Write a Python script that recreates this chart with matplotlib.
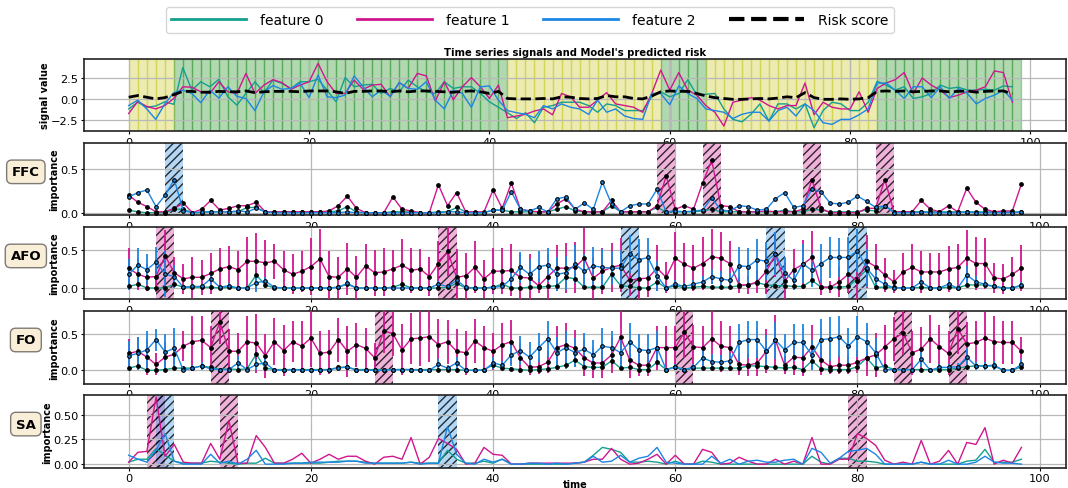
import matplotlib
matplotlib.use("Agg")
import matplotlib.pyplot as plt
from matplotlib.lines import Line2D
import numpy as np

# ---------------- data ----------------
t = np.arange(99)

sig_f0 = [-1.15, -0.35, -0.95, -0.8, -0.3, -0.6, 3.8, 1.1, 2.1, 1.5,
          2.4, 0.3, -0.7, 0.7, 2.1, 0.8, 2.3, 1.9, 1.3, 2.1,
          2.1, 2.4, 1.1, -0.3, 2.6, 1.5, 1.7, 1.8, 0.7, 1.3,
          0.9, 2.3, 1.5, 0.9, 0.7, 2.1, 1.3, 1.5, 1.5, 0.7,
          -0.3, -0.95, -1.6, -2.3, -1.6, -2.8, -0.95, -0.75, -0.35, -0.35,
          -0.35, -0.75, -1.55, -0.55, -0.75, -1.35, -1.35, -1.35, 0.3, 0.9,
          0.3, 0.7, 2.35, 0.5, 0.6, 0.7, -1.15, -2.4, -2.7, -1.8,
          -0.55, -2.6, -0.55, -0.55, -1.15, -0.55, -3.4, -1.35, -0.35, -0.55,
          -1.35, -1.35, -0.35, 2.15, 1.7, 1.1, 1.5, 0.1, 0.3, 0.7,
          1.7, 1.3, 1.45, 1.1, 1.1, 1.2, 1.1, 1.6, 1.5]
sig_f1 = [-1.7, -0.25, -0.85, -1.15, -0.75, 0.1, 1.5, 1.45, 0.9, 0.7,
          2.1, 0.9, 0.7, 3.1, 0.7, 1.7, 2.35, 2.0, 1.2, 1.7,
          2.1, 4.3, 2.1, 0.7, 0.7, 2.3, 1.2, 1.7, 1.8, 0.3,
          2.0, 1.3, 3.1, 2.8, -0.2, 2.1, -0.05, 1.5, 2.6, 1.5,
          0.1, 1.7, -2.2, -2.0, -1.8, -1.4, -1.15, -1.85, 0.7, 0.3,
          -0.95, -0.95, -0.1, 0.8, -0.55, -0.75, -0.95, -1.55, 0.7, 3.5,
          1.1, 3.2, 1.1, 0.5, -0.75, -1.55, -3.2, -0.35, -0.1, 0.2,
          -0.1, -0.75, -1.15, -0.75, -0.75, 1.95, -1.85, -0.35, -0.95, -1.15,
          -1.15, 0.9, -1.55, 1.3, 1.95, 2.35, 3.2, 0.7, 2.55, 1.7,
          1.1, 0.2, 0.5, 0.9, 1.1, 1.5, 3.4, 3.2, -0.35]
sig_f2 = [-0.75, -0.1, -1.15, -2.4, -0.55, 0.8, 1.1, 0.7, -0.4, 1.1,
          0.15, 1.5, 0.35, 0.1, -1.35, 0.9, 1.65, 1.2, 1.3, 1.95,
          0.2, 2.9, 0.3, 0.2, 0.5, 2.8, 1.5, 0.3, 1.1, 0.35,
          2.0, 1.3, 1.2, 2.1, -0.1, -1.15, 1.1, 0.7, -0.95, 1.5,
          1.6, -0.1, -1.35, -1.6, -1.8, -2.2, -0.75, -1.15, -0.55, -0.95,
          -1.15, -1.8, -0.1, -1.55, -1.15, -2.0, -2.3, -2.4, 0.7, 0.7,
          -0.65, 1.6, 0.7, 0.1, -1.15, -1.35, -1.55, -2.3, -1.8, -1.55,
          -1.55, -2.6, -1.35, -0.95, -2.0, -0.55, -1.35, -2.8, -3.0, -2.4,
          -2.4, -1.85, -1.15, 1.95, 1.95, 1.1, 0.1, 1.5, 1.5, 0.2,
          1.5, 0.1, 1.3, 0.7, -0.55, 0.1, 0.5, 1.1, -0.1]
risk = [0.25, 0.45, 0.25, 0.05, 0.2, 0.55, 0.95, 0.95, 0.85, 0.85,
        0.95, 0.9, 0.9, 1.0, 0.8, 0.9, 0.95, 0.95, 0.95, 0.9,
        1.0, 1.0, 1.0, 0.9, 0.7, 0.95, 0.95, 1.0, 1.0, 0.9,
        1.0, 0.9, 1.0, 1.0, 0.95, 0.9, 0.85, 0.95, 1.0, 0.9,
        0.7, 0.95, 0.1, 0.05, 0.05, 0.05, 0.1, 0.05, 0.3, 0.25,
        0.1, 0.05, 0.1, 0.45, 0.3, 0.3, 0.1, 0.05, 0.4, 0.9,
        1.0, 0.95, 0.95, 0.7, 0.4, 0.2, 0.1, 0.0, 0.0, 0.05,
        0.1, 0.05, 0.15, 0.3, 0.2, 0.8, 0.2, 0.0, 0.0, 0.05,
        0.0, 0.05, 0.2, 0.95, 1.0, 0.95, 1.0, 0.9, 0.95, 1.0,
        1.0, 0.9, 0.95, 1.0, 0.85, 0.95, 1.0, 1.0, 0.65]
# state label of each time step (1 = event, 0 = normal)
label = [0] * 5 + [1] * 37 + [0] * 17 + [1] * 5 + [0] * 19 + [1] * 16

# ---- FFC importance ----
ffc_f0 = [0.03, 0.01, 0.0, 0.0, 0.0, 0.04, 0.04, 0.0, 0.0, 0.01,
          0.01, 0.01, 0.01, 0.06, 0.06, 0.01, 0.01, 0.01, 0.01, 0.01,
          0.01, 0.01, 0.01, 0.02, 0.07, 0.01, 0.0, 0.0, 0.0, 0.01,
          0.01, 0.01, 0.0, 0.0, 0.01, 0.01, 0.06, 0.01, 0.0, 0.0,
          0.03, 0.03, 0.01, 0.01, 0.01, 0.01, 0.01, 0.04, 0.07, 0.02,
          0.01, 0.01, 0.01, 0.08, 0.01, 0.01, 0.01, 0.01, 0.06, 0.01,
          0.01, 0.01, 0.01, 0.02, 0.04, 0.01, 0.01, 0.01, 0.01, 0.01,
          0.01, 0.01, 0.03, 0.01, 0.01, 0.04, 0.03, 0.01, 0.01, 0.01,
          0.01, 0.03, 0.02, 0.08, 0.01, 0.01, 0.01, 0.01, 0.01, 0.01,
          0.01, 0.01, 0.01, 0.01, 0.01, 0.01, 0.01, 0.01, 0.01]
ffc_f1 = [0.2, 0.12, 0.07, 0.01, 0.01, 0.05, 0.11, 0.0, 0.04, 0.14,
          0.03, 0.05, 0.08, 0.08, 0.12, 0.01, 0.01, 0.01, 0.01, 0.01,
          0.01, 0.01, 0.02, 0.08, 0.19, 0.05, 0.0, 0.0, 0.0, 0.18,
          0.04, 0.02, 0.0, 0.0, 0.32, 0.08, 0.23, 0.01, 0.01, 0.01,
          0.26, 0.05, 0.34, 0.04, 0.02, 0.01, 0.01, 0.1, 0.16, 0.04,
          0.01, 0.01, 0.01, 0.14, 0.01, 0.01, 0.01, 0.01, 0.08, 0.42,
          0.04, 0.08, 0.04, 0.34, 0.6, 0.08, 0.07, 0.01, 0.01, 0.01,
          0.02, 0.01, 0.01, 0.01, 0.04, 0.38, 0.05, 0.0, 0.0, 0.0,
          0.0, 0.05, 0.05, 0.38, 0.01, 0.01, 0.01, 0.14, 0.04, 0.01,
          0.08, 0.01, 0.28, 0.12, 0.04, 0.01, 0.02, 0.02, 0.33]
ffc_f2 = [0.18, 0.23, 0.26, 0.07, 0.2, 0.38, 0.02, 0.0, 0.01, 0.01,
          0.01, 0.01, 0.02, 0.01, 0.05, 0.01, 0.0, 0.0, 0.0, 0.0,
          0.0, 0.0, 0.0, 0.0, 0.01, 0.0, 0.0, 0.0, 0.0, 0.0,
          0.0, 0.0, 0.0, 0.0, 0.0, 0.01, 0.01, 0.0, 0.0, 0.0,
          0.03, 0.03, 0.24, 0.04, 0.02, 0.06, 0.01, 0.16, 0.18, 0.04,
          0.11, 0.04, 0.35, 0.1, 0.01, 0.08, 0.1, 0.1, 0.27, 0.01,
          0.02, 0.01, 0.02, 0.03, 0.17, 0.03, 0.02, 0.08, 0.07, 0.03,
          0.04, 0.16, 0.23, 0.06, 0.08, 0.27, 0.24, 0.11, 0.1, 0.12,
          0.19, 0.13, 0.06, 0.08, 0.0, 0.0, 0.0, 0.01, 0.0, 0.0,
          0.0, 0.0, 0.01, 0.0, 0.0, 0.0, 0.0, 0.0, 0.01]

# ---- AFO importance (mean and std) ----
afo_f0 = [0.02, 0.05, 0.0, 0.0, 0.0, 0.05, 0.01, 0.01, 0.01, 0.01,
          0.0, 0.01, 0.0, 0.0, 0.17, 0.04, 0.0, 0.0, 0.0, 0.0,
          0.0, 0.0, 0.0, 0.01, 0.05, 0.0, 0.0, 0.0, 0.0, 0.01,
          0.05, 0.0, 0.0, 0.0, 0.0, 0.01, 0.06, 0.0, 0.0, 0.0,
          0.01, 0.05, 0.0, 0.0, 0.01, 0.01, 0.02, 0.03, 0.14, 0.12,
          0.01, 0.01, 0.01, 0.18, 0.03, 0.02, 0.0, 0.0, 0.08, 0.0,
          0.03, 0.0, 0.01, 0.02, 0.01, 0.01, 0.01, 0.03, 0.04, 0.07,
          0.04, 0.03, 0.03, 0.02, 0.02, 0.1, 0.01, 0.01, 0.01, 0.02,
          0.12, 0.24, 0.01, 0.01, 0.01, 0.0, 0.0, 0.01, 0.0, 0.0,
          0.01, 0.0, 0.04, 0.04, 0.04, 0.02, 0.0, 0.0, 0.03]
afo_f1 = [0.26, 0.18, 0.14, 0.15, 0.42, 0.2, 0.12, 0.14, 0.14, 0.19,
          0.25, 0.28, 0.24, 0.35, 0.35, 0.33, 0.35, 0.24, 0.18, 0.22,
          0.28, 0.38, 0.15, 0.14, 0.25, 0.14, 0.29, 0.2, 0.21, 0.25,
          0.3, 0.23, 0.25, 0.15, 0.32, 0.48, 0.14, 0.16, 0.27, 0.12,
          0.22, 0.22, 0.23, 0.14, 0.13, 0.03, 0.15, 0.26, 0.26, 0.27,
          0.39, 0.13, 0.22, 0.27, 0.3, 0.1, 0.12, 0.13, 0.26, 0.14,
          0.39, 0.31, 0.26, 0.32, 0.41, 0.39, 0.32, 0.04, 0.04, 0.08,
          0.22, 0.44, 0.09, 0.24, 0.31, 0.4, 0.01, 0.01, 0.08, 0.18,
          0.09, 0.35, 0.28, 0.17, 0.08, 0.21, 0.27, 0.21, 0.21, 0.21,
          0.25, 0.27, 0.39, 0.32, 0.32, 0.13, 0.12, 0.18, 0.26]
afo_f2 = [0.18, 0.3, 0.24, 0.34, 0.18, 0.15, 0.01, 0.02, 0.02, 0.12,
          0.01, 0.03, 0.0, 0.0, 0.07, 0.09, 0.01, 0.0, 0.0, 0.0,
          0.0, 0.0, 0.0, 0.01, 0.06, 0.0, 0.0, 0.0, 0.0, 0.0,
          0.0, 0.0, 0.0, 0.0, 0.05, 0.02, 0.1, 0.01, 0.0, 0.0,
          0.01, 0.02, 0.12, 0.27, 0.18, 0.28, 0.3, 0.18, 0.2, 0.31,
          0.22, 0.29, 0.27, 0.26, 0.26, 0.45, 0.37, 0.4, 0.16, 0.0,
          0.05, 0.02, 0.05, 0.08, 0.15, 0.12, 0.1, 0.29, 0.28, 0.37,
          0.35, 0.45, 0.2, 0.1, 0.32, 0.23, 0.32, 0.4, 0.4, 0.4,
          0.49, 0.26, 0.12, 0.05, 0.0, 0.0, 0.0, 0.08, 0.0, 0.0,
          0.05, 0.0, 0.17, 0.08, 0.05, 0.02, 0.0, 0.0, 0.04]
afo_s0 = [0.02, 0.04, 0.01, 0.01, 0.01, 0.04, 0.01, 0.01, 0.01, 0.01,
          0.01, 0.01, 0.01, 0.01, 0.1, 0.04, 0.01, 0.01, 0.01, 0.01,
          0.01, 0.01, 0.01, 0.01, 0.04, 0.01, 0.01, 0.01, 0.01, 0.01,
          0.04, 0.01, 0.01, 0.01, 0.01, 0.01, 0.05, 0.01, 0.01, 0.01,
          0.01, 0.04, 0.01, 0.01, 0.01, 0.01, 0.02, 0.03, 0.08, 0.08,
          0.01, 0.01, 0.01, 0.1, 0.03, 0.02, 0.01, 0.01, 0.06, 0.01,
          0.03, 0.01, 0.01, 0.02, 0.01, 0.01, 0.01, 0.03, 0.04, 0.05,
          0.03, 0.03, 0.03, 0.02, 0.02, 0.07, 0.01, 0.01, 0.01, 0.02,
          0.08, 0.12, 0.01, 0.01, 0.01, 0.01, 0.01, 0.01, 0.01, 0.01,
          0.01, 0.01, 0.03, 0.03, 0.03, 0.02, 0.01, 0.01, 0.02]
afo_s1 = [0.26, 0.2, 0.18, 0.2, 0.34, 0.2, 0.2, 0.27, 0.23, 0.27,
          0.28, 0.27, 0.25, 0.32, 0.37, 0.3, 0.23, 0.25, 0.26, 0.27,
          0.37, 0.39, 0.33, 0.27, 0.34, 0.28, 0.28, 0.3, 0.31, 0.25,
          0.34, 0.3, 0.26, 0.26, 0.3, 0.32, 0.37, 0.3, 0.34, 0.25,
          0.3, 0.3, 0.34, 0.3, 0.32, 0.1, 0.3, 0.3, 0.33, 0.33,
          0.4, 0.28, 0.3, 0.32, 0.35, 0.2, 0.35, 0.25, 0.3, 0.2,
          0.35, 0.28, 0.3, 0.35, 0.36, 0.35, 0.3, 0.1, 0.12, 0.15,
          0.3, 0.3, 0.25, 0.27, 0.32, 0.35, 0.1, 0.08, 0.2, 0.25,
          0.25, 0.35, 0.3, 0.22, 0.15, 0.25, 0.3, 0.28, 0.25, 0.25,
          0.3, 0.3, 0.37, 0.35, 0.33, 0.2, 0.2, 0.22, 0.3]
afo_s2 = [0.2, 0.22, 0.2, 0.2, 0.3, 0.15, 0.03, 0.03, 0.03, 0.1,
          0.02, 0.04, 0.01, 0.01, 0.12, 0.06, 0.02, 0.01, 0.01, 0.01,
          0.01, 0.01, 0.01, 0.02, 0.04, 0.01, 0.01, 0.01, 0.01, 0.01,
          0.01, 0.01, 0.01, 0.01, 0.04, 0.03, 0.08, 0.02, 0.01, 0.01,
          0.02, 0.03, 0.1, 0.2, 0.2, 0.2, 0.22, 0.22, 0.22, 0.25,
          0.22, 0.25, 0.24, 0.22, 0.24, 0.25, 0.27, 0.25, 0.2, 0.02,
          0.06, 0.04, 0.06, 0.08, 0.1, 0.1, 0.1, 0.25, 0.25, 0.27,
          0.25, 0.28, 0.2, 0.12, 0.25, 0.22, 0.25, 0.27, 0.25, 0.27,
          0.28, 0.25, 0.12, 0.05, 0.02, 0.02, 0.02, 0.08, 0.02, 0.02,
          0.05, 0.02, 0.12, 0.08, 0.05, 0.03, 0.02, 0.02, 0.04]

# ---- FO importance (mean and std) ----
fo_f0 = [0.03, 0.06, 0.0, 0.0, 0.01, 0.03, 0.03, 0.03, 0.06, 0.04,
         0.01, 0.02, 0.01, 0.02, 0.22, 0.03, 0.01, 0.01, 0.01, 0.01,
         0.01, 0.01, 0.01, 0.04, 0.04, 0.01, 0.01, 0.01, 0.01, 0.01,
         0.01, 0.01, 0.01, 0.01, 0.01, 0.01, 0.01, 0.0, 0.0, 0.01,
         0.07, 0.03, 0.02, 0.01, 0.0, 0.01, 0.02, 0.04, 0.07, 0.14,
         0.05, 0.04, 0.04, 0.13, 0.03, 0.04, 0.01, 0.01, 0.11, 0.01,
         0.05, 0.01, 0.03, 0.03, 0.03, 0.03, 0.03, 0.03, 0.06, 0.06,
         0.05, 0.04, 0.03, 0.04, 0.01, 0.13, 0.02, 0.01, 0.01, 0.01,
         0.05, 0.17, 0.03, 0.06, 0.01, 0.01, 0.01, 0.01, 0.01, 0.01,
         0.01, 0.03, 0.05, 0.06, 0.06, 0.06, 0.0, 0.0, 0.05]
fo_f1 = [0.23, 0.26, 0.18, 0.08, 0.18, 0.22, 0.33, 0.39, 0.41, 0.31,
         0.66, 0.26, 0.26, 0.39, 0.37, 0.2, 0.39, 0.27, 0.39, 0.33,
         0.44, 0.23, 0.25, 0.42, 0.26, 0.35, 0.3, 0.17, 0.54, 0.5,
         0.28, 0.43, 0.44, 0.46, 0.35, 0.39, 0.26, 0.24, 0.4, 0.31,
         0.26, 0.35, 0.39, 0.17, 0.04, 0.05, 0.11, 0.31, 0.35, 0.3,
         0.17, 0.1, 0.1, 0.21, 0.45, 0.14, 0.07, 0.07, 0.31, 0.31,
         0.31, 0.52, 0.32, 0.31, 0.43, 0.33, 0.31, 0.08, 0.07, 0.1,
         0.26, 0.41, 0.07, 0.18, 0.17, 0.32, 0.14, 0.05, 0.07, 0.07,
         0.11, 0.17, 0.21, 0.32, 0.43, 0.51, 0.24, 0.29, 0.43, 0.32,
         0.23, 0.57, 0.36, 0.38, 0.44, 0.39, 0.38, 0.38, 0.26]
fo_f2 = [0.2, 0.23, 0.28, 0.42, 0.25, 0.3, 0.0, 0.03, 0.06, 0.02,
         0.01, 0.01, 0.1, 0.01, 0.08, 0.1, 0.0, 0.0, 0.01, 0.0,
         0.0, 0.0, 0.01, 0.03, 0.05, 0.0, 0.0, 0.0, 0.0, 0.01,
         0.01, 0.01, 0.0, 0.0, 0.08, 0.03, 0.1, 0.0, 0.0, 0.0,
         0.1, 0.07, 0.21, 0.27, 0.18, 0.31, 0.43, 0.24, 0.31, 0.24,
         0.29, 0.21, 0.33, 0.31, 0.24, 0.39, 0.28, 0.27, 0.31, 0.01,
         0.04, 0.01, 0.04, 0.17, 0.12, 0.11, 0.13, 0.38, 0.42, 0.42,
         0.26, 0.41, 0.28, 0.38, 0.38, 0.21, 0.42, 0.43, 0.46, 0.33,
         0.46, 0.39, 0.24, 0.01, 0.01, 0.01, 0.01, 0.15, 0.0, 0.04,
         0.04, 0.05, 0.18, 0.06, 0.06, 0.07, 0.0, 0.0, 0.08]
fo_s0 = [0.02, 0.04, 0.01, 0.01, 0.01, 0.03, 0.03, 0.03, 0.04, 0.03,
         0.01, 0.02, 0.01, 0.02, 0.12, 0.03, 0.01, 0.01, 0.01, 0.01,
         0.01, 0.01, 0.01, 0.03, 0.03, 0.01, 0.01, 0.01, 0.01, 0.01,
         0.01, 0.01, 0.01, 0.01, 0.01, 0.01, 0.01, 0.01, 0.01, 0.01,
         0.05, 0.03, 0.02, 0.01, 0.01, 0.01, 0.02, 0.03, 0.05, 0.08,
         0.04, 0.03, 0.03, 0.08, 0.03, 0.03, 0.01, 0.01, 0.07, 0.01,
         0.04, 0.01, 0.03, 0.03, 0.03, 0.03, 0.03, 0.03, 0.04, 0.04,
         0.04, 0.03, 0.03, 0.03, 0.01, 0.08, 0.02, 0.01, 0.01, 0.01,
         0.04, 0.1, 0.03, 0.04, 0.01, 0.01, 0.01, 0.01, 0.01, 0.01,
         0.01, 0.03, 0.04, 0.04, 0.04, 0.04, 0.01, 0.01, 0.04]
fo_s1 = [0.2, 0.2, 0.25, 0.15, 0.2, 0.2, 0.2, 0.35, 0.33, 0.3,
         0.3, 0.3, 0.25, 0.35, 0.4, 0.3, 0.32, 0.35, 0.28, 0.35,
         0.4, 0.3, 0.3, 0.3, 0.35, 0.3, 0.28, 0.2, 0.3, 0.3,
         0.35, 0.35, 0.38, 0.35, 0.35, 0.3, 0.3, 0.3, 0.3, 0.3,
         0.25, 0.3, 0.3, 0.2, 0.1, 0.1, 0.15, 0.3, 0.3, 0.25,
         0.25, 0.2, 0.2, 0.25, 0.4, 0.25, 0.15, 0.15, 0.3, 0.3,
         0.3, 0.35, 0.3, 0.3, 0.38, 0.35, 0.3, 0.15, 0.15, 0.18,
         0.3, 0.35, 0.12, 0.25, 0.25, 0.3, 0.2, 0.1, 0.12, 0.12,
         0.15, 0.25, 0.3, 0.3, 0.3, 0.3, 0.3, 0.3, 0.33, 0.3,
         0.3, 0.35, 0.3, 0.3, 0.35, 0.35, 0.3, 0.3, 0.2]
fo_s2 = [0.2, 0.22, 0.25, 0.15, 0.25, 0.28, 0.02, 0.04, 0.05, 0.03,
         0.02, 0.02, 0.1, 0.02, 0.08, 0.1, 0.01, 0.01, 0.02, 0.01,
         0.01, 0.01, 0.02, 0.03, 0.04, 0.01, 0.01, 0.01, 0.01, 0.02,
         0.02, 0.02, 0.01, 0.01, 0.07, 0.04, 0.08, 0.01, 0.01, 0.01,
         0.08, 0.06, 0.15, 0.2, 0.2, 0.2, 0.25, 0.22, 0.22, 0.2,
         0.22, 0.2, 0.25, 0.22, 0.2, 0.25, 0.22, 0.22, 0.22, 0.02,
         0.04, 0.02, 0.04, 0.12, 0.1, 0.1, 0.1, 0.25, 0.25, 0.25,
         0.22, 0.25, 0.22, 0.25, 0.25, 0.2, 0.28, 0.3, 0.28, 0.25,
         0.28, 0.25, 0.2, 0.02, 0.02, 0.02, 0.02, 0.1, 0.01, 0.04,
         0.04, 0.05, 0.12, 0.06, 0.06, 0.06, 0.01, 0.01, 0.07]

# ---- SA importance ----
sa_f0 = [0.02, 0.05, 0.05, 0.16, 0.09, 0.03, 0.01, 0.01, 0.01, 0.03,
         0.02, 0.01, 0.0, 0.01, 0.01, 0.06, 0.01, 0.01, 0.01, 0.01,
         0.01, 0.01, 0.02, 0.03, 0.03, 0.03, 0.02, 0.01, 0.01, 0.01,
         0.01, 0.02, 0.01, 0.01, 0.01, 0.14, 0.05, 0.01, 0.01, 0.03,
         0.01, 0.05, 0.0, 0.0, 0.0, 0.0, 0.0, 0.0, 0.0, 0.01,
         0.02, 0.09, 0.17, 0.15, 0.12, 0.02, 0.02, 0.03, 0.02, 0.0,
         0.03, 0.0, 0.0, 0.03, 0.02, 0.0, 0.0, 0.0, 0.0, 0.0,
         0.0, 0.0, 0.0, 0.0, 0.0, 0.08, 0.02, 0.0, 0.06, 0.06,
         0.03, 0.03, 0.02, 0.0, 0.0, 0.0, 0.0, 0.02, 0.0, 0.0,
         0.0, 0.0, 0.03, 0.04, 0.15, 0.02, 0.02, 0.02, 0.05]
sa_f1 = [0.02, 0.12, 0.13, 0.68, 0.08, 0.2, 0.02, 0.01, 0.01, 0.21,
         0.05, 0.44, 0.01, 0.01, 0.29, 0.17, 0.01, 0.01, 0.05, 0.11,
         0.01, 0.05, 0.1, 0.05, 0.08, 0.08, 0.03, 0.0, 0.07, 0.08,
         0.05, 0.27, 0.0, 0.07, 0.26, 0.21, 0.15, 0.0, 0.01, 0.17,
         0.1, 0.09, 0.0, 0.0, 0.01, 0.01, 0.01, 0.01, 0.01, 0.01,
         0.02, 0.05, 0.05, 0.16, 0.05, 0.0, 0.01, 0.05, 0.1, 0.0,
         0.09, 0.0, 0.0, 0.15, 0.12, 0.0, 0.01, 0.07, 0.03, 0.0,
         0.0, 0.05, 0.0, 0.03, 0.0, 0.27, 0.0, 0.0, 0.05, 0.05,
         0.31, 0.26, 0.19, 0.04, 0.0, 0.02, 0.0, 0.24, 0.0, 0.03,
         0.14, 0.0, 0.22, 0.2, 0.37, 0.0, 0.04, 0.01, 0.17]
sa_f2 = [0.09, 0.05, 0.02, 0.14, 0.31, 0.03, 0.0, 0.0, 0.0, 0.1,
         0.01, 0.03, 0.0, 0.05, 0.14, 0.0, 0.0, 0.0, 0.01, 0.01,
         0.02, 0.02, 0.02, 0.02, 0.03, 0.03, 0.01, 0.01, 0.01, 0.01,
         0.01, 0.02, 0.0, 0.01, 0.01, 0.38, 0.1, 0.01, 0.0, 0.05,
         0.02, 0.05, 0.0, 0.0, 0.01, 0.01, 0.0, 0.01, 0.0, 0.01,
         0.02, 0.08, 0.02, 0.03, 0.09, 0.02, 0.06, 0.08, 0.17, 0.02,
         0.01, 0.0, 0.0, 0.0, 0.08, 0.01, 0.05, 0.0, 0.03, 0.04,
         0.02, 0.02, 0.04, 0.05, 0.0, 0.16, 0.12, 0.01, 0.06, 0.13,
         0.14, 0.16, 0.1, 0.0, 0.0, 0.0, 0.0, 0.02, 0.0, 0.0,
         0.04, 0.0, 0.0, 0.02, 0.08, 0.02, 0.01, 0.01, 0.0]

# highlighted (time, feature) pairs for each explainer
ffc_top = [(5, 2), (59, 1), (64, 1), (75, 1), (83, 1)]
afo_top = [(4, 1), (35, 1), (55, 2), (71, 2), (80, 2)]
fo_top = [(10, 1), (28, 1), (61, 1), (85, 1), (91, 1)]
sa_top = [(3, 1), (4, 2), (11, 1), (35, 2), (80, 1)]

feature_names = ["feature 0", "feature 1", "feature 2"]
colors = ["#14a08e", "#d0168f", "#1c86e3"]

# ---------------- figure ----------------
fig = plt.figure(figsize=(10.68, 4.89), dpi=100)
left, width = 0.0787, 0.9195
rows = [(0.7296, 0.1483), (0.5576, 0.1483), (0.3856, 0.1483),
        (0.2137, 0.1483), (0.0417, 0.1483)]
axes = [fig.add_axes([left, b, width, h]) for b, h in rows]


def style(ax):
    ax.grid(True, color="#b8b8b8", lw=0.9)
    for s in ax.spines.values():
        s.set_color("#222222")
        s.set_linewidth(1.2)
    ax.tick_params(labelsize=8.2, length=2.5, width=0.8, pad=1.5)


# top: signals + risk
ax = axes[0]
for i in range(len(t)):
    c = "g" if label[i] == 1 else "y"
    ax.axvspan(t[i], t[i] + 1, color=c, alpha=0.3)
for sig, c in zip([sig_f0, sig_f1, sig_f2], colors):
    ax.plot(t, sig, color=c, lw=1.0)
ax.plot(t, risk, color="black", lw=2.0, ls="--")
ax.set_xlim(-4.95, 103.95)
ax.set_ylim(-3.82, 4.86)
ax.set_yticks([-2.5, 0.0, 2.5])
ax.set_xticks([0, 20, 40, 60, 80, 100])
ax.set_ylabel("signal value", fontsize=7, fontweight="bold", labelpad=1)
ax.set_title("Time series signals and Model's predicted risk", fontsize=7.2,
             fontweight="bold", pad=3)
style(ax)


def shade(ax, tops):
    for ts, f in tops:
        ax.axvspan(ts - 1, ts + 1, facecolor=colors[f], alpha=0.33, lw=0)
        ax.axvspan(ts - 1, ts + 1, facecolor="none", edgecolor="black",
                   hatch="////", lw=0, alpha=0.8)


def importance(ax, means, stds, tops, ylim, yticks, markers=True):
    shade(ax, tops)
    for k, (m, c) in enumerate(zip(means, colors)):
        mk = dict(marker="o", ms=2.6, mfc=c if k == 2 else "black",
                  mec="black", mew=0.8)
        if stds is not None:
            ax.errorbar(t, m, yerr=stds[k], color=c, lw=1.0, elinewidth=1.3,
                        ecolor=c, capsize=0, zorder=3, **mk)
        elif markers:
            ax.plot(t, m, color=c, lw=1.0, zorder=3, **mk)
        else:
            ax.plot(t, m, color=c, lw=1.0, zorder=3)
    ax.set_xlim(-4.9, 102.9)
    ax.set_ylim(*ylim)
    ax.set_yticks(yticks)
    ax.set_xticks([0, 20, 40, 60, 80, 100])
    ax.set_ylabel("importance", fontsize=7, fontweight="bold", labelpad=1)
    style(ax)


importance(axes[1], [ffc_f0, ffc_f1, ffc_f2], None, ffc_top, (-0.03, 0.8), [0.0, 0.5])
importance(axes[2], [afo_f0, afo_f1, afo_f2], [afo_s0, afo_s1, afo_s2], afo_top,
           (-0.15, 0.8), [0.0, 0.5])
importance(axes[3], [fo_f0, fo_f1, fo_f2], [fo_s0, fo_s1, fo_s2], fo_top,
           (-0.18, 0.81), [0.0, 0.5])
importance(axes[4], [sa_f0, sa_f1, sa_f2], None, sa_top, (-0.035, 0.70),
           [0.0, 0.25, 0.5], markers=False)
axes[4].set_xlabel("time", fontsize=7, fontweight="bold")
axes[4].xaxis.set_label_coords(0.5, -0.155)

# explainer name tags
for name, ax in zip(["FFC", "AFO", "FO", "SA"], axes[1:]):
    b, h = ax.get_position().y0, ax.get_position().height
    fig.text(0.0242, b + h * 0.6, name, ha="center", va="center", fontsize=9.5,
             fontweight="bold",
             bbox=dict(boxstyle="round,pad=0.4", facecolor="wheat", alpha=0.5))

handles = [Line2D([0], [0], color=c, lw=2) for c in colors]
handles.append(Line2D([0], [0], color="black", lw=3, ls="--"))
fig.legend(handles, feature_names + ["Risk score"], loc="upper center",
           bbox_to_anchor=(0.496, 0.997), ncol=4, fontsize=10, handlelength=5.4,
           handletextpad=1.0, columnspacing=2.4, frameon=True, borderpad=0.4)

fig.savefig("out.png", dpi=100)
